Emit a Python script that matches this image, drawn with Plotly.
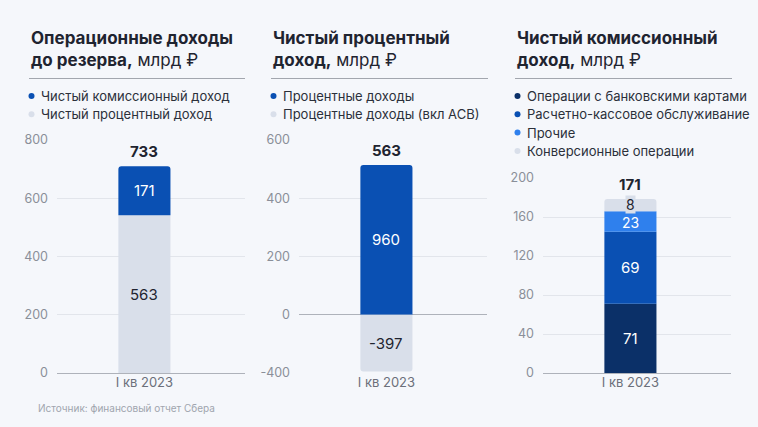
import plotly.graph_objects as go

W, H = 758, 427
FONT = "Inter"
BG = "#f5f7fb"

category = ["I кв 2023"]

# ---------- Panel 1: Операционные доходы до резерва ----------
p1_names = ["Чистый процентный доход", "Чистый комиссионный доход"]  # stack bottom -> top
p1_heights = [542, 168]
p1_labels = ["563", "171"]
p1_total = "733"
p1_colors = ["#d9dfea", "#0a50b3"]
p1_textcolors = ["#1f2430", "#ffffff"]
p1_tickvals = [0, 200, 400, 600, 800]
p1_ticktext = ["0", "200", "400", "600", "800"]

# ---------- Panel 2: Чистый процентный доход ----------
p2_names = ["Процентные доходы", "Процентные доходы (вкл АСВ)"]
p2_heights = [514, -195]
p2_labels = ["960", "-397"]
p2_total = "563"
p2_colors = ["#0a50b3", "#d9dfea"]
p2_textcolors = ["#ffffff", "#1f2430"]
p2_tickvals = [-200, 0, 200, 400, 600]
p2_ticktext = ["-400", "0", "200", "400", "600"]

# ---------- Panel 3: Чистый комиссионный доход ----------
p3_names = ["Операции с банковскими картами", "Расчетно-кассовое обслуживание",
            "Прочие", "Конверсионные операции"]
p3_heights = [71, 74, 21, 12.5]
p3_labels = ["71", "69", "23", "8"]
p3_total = "171"
p3_colors = ["#0b3068", "#0a50b3", "#2f80ed", "#d9dfea"]
p3_textcolors = ["#ffffff", "#ffffff", "#ffffff", "#1f2430"]
p3_tickvals = [0, 40, 80, 120, 160, 200]
p3_ticktext = ["0", "40", "80", "120", "160", "200"]

titles = [
    "<b>Операционные доходы<br>до резерва,</b> млрд ₽",
    "<b>Чистый процентный<br>доход,</b> млрд ₽",
    "<b>Чистый комиссионный<br>доход,</b> млрд ₽",
]
legend_orders = [[1, 0], [0, 1], [0, 1, 2, 3]]
source_text = "Источник: финансовый отчет Сбера"


def px(x):
    return x / W


def py(y):
    return 1 - y / H


panels = [
    dict(names=p1_names, h=p1_heights, lab=p1_labels, tot=p1_total, col=p1_colors,
         tc=p1_textcolors, tv=p1_tickvals, tt=p1_ticktext, rng=[0, 800],
         xdom=(57, 245), ydom=(140, 373), left=29, right=245),
    dict(names=p2_names, h=p2_heights, lab=p2_labels, tot=p2_total, col=p2_colors,
         tc=p2_textcolors, tv=p2_tickvals, tt=p2_ticktext, rng=[-200, 600],
         xdom=(299, 487), ydom=(140, 373), left=271, right=488),
    dict(names=p3_names, h=p3_heights, lab=p3_labels, tot=p3_total, col=p3_colors,
         tc=p3_textcolors, tv=p3_tickvals, tt=p3_ticktext, rng=[0, 200],
         xdom=(543, 731), ydom=(178, 373), left=515, right=732),
]

fig = go.Figure()
annotations = []
shapes = []
layout = dict(
    width=W, height=H, margin=dict(l=0, r=0, t=0, b=0, autoexpand=False),
    paper_bgcolor=BG, plot_bgcolor=BG, barmode="relative",
    barcornerradius=3, showlegend=False,
    font=dict(family=FONT, color="#1f2430"),
)

for i, p in enumerate(panels):
    n = "" if i == 0 else str(i + 1)
    xa, ya = "x" + n, "y" + n
    for name, h, c in zip(p["names"], p["h"], p["col"]):
        fig.add_trace(go.Bar(x=category, y=[h], name=name, marker=dict(color=c, line=dict(width=0)),
                             width=0.277, xaxis=xa, yaxis=ya, hoverinfo="skip"))
    layout["xaxis" + n] = dict(
        domain=[px(p["xdom"][0]), px(p["xdom"][1])], anchor=ya, type="category",
        range=[-0.465, 0.535], showgrid=False, showline=False, ticks="", automargin=False,
        tickfont=dict(family=FONT, size=13, color="#6b707a"), fixedrange=True,
    )
    layout["yaxis" + n] = dict(
        domain=[py(p["ydom"][1]), py(p["ydom"][0])], anchor=xa, range=p["rng"],
        tickvals=p["tv"], ticktext=p["tt"], showgrid=True, gridcolor="#e2e5eb", gridwidth=1,
        zeroline=True, zerolinecolor="#aeb2ba", zerolinewidth=1, showline=False, ticks="",
        ticklabelstandoff=8, automargin=False,
        tickfont=dict(family=FONT, size=12.5, color="#8a8f99"), fixedrange=True,
    )
    # segment labels
    pos, neg = 0, 0
    for h, lab, tc, c in zip(p["h"], p["lab"], p["tc"], p["col"]):
        if h >= 0:
            mid = pos + h / 2
            pos += h
        else:
            mid = neg + h / 2
            neg += h
        ann = dict(x=0, y=mid, xref=xa, yref=ya, text=lab, showarrow=False,
                   font=dict(family=FONT, size=15, color=tc))
        if lab == "8":
            ann.update(bgcolor=c, borderpad=0, font=dict(family=FONT, size=14, color=tc), yshift=1)
        if lab == "23":
            ann.update(font=dict(family=FONT, size=14, color=tc), yshift=-1)
        annotations.append(ann)
    # total label
    annotations.append(dict(x=0, y=pos, xref=xa, yref=ya, text="<b>" + p["tot"] + "</b>",
                            showarrow=False, yanchor="bottom", yshift=3,
                            font=dict(family=FONT, size=15, color="#1f2430")))
    # title (two lines)
    annotations.append(dict(x=px(p["left"]), y=py(48.5), xref="paper", yref="paper", text=titles[i],
                            showarrow=False, xanchor="left", yanchor="middle", align="left",
                            font=dict(family=FONT, size=17, color="#1f2430")))
    shapes.append(dict(type="line", xref="paper", yref="paper", x0=px(p["left"]), x1=px(p["right"]),
                       y0=py(78.5), y1=py(78.5), line=dict(color="#a2a6ae", width=1)))
    # legend
    for r, k in enumerate(legend_orders[i]):
        yc = 96 + r * 18.3
        cx = p["left"] + 2.5
        shapes.append(dict(type="circle", xref="paper", yref="paper",
                           x0=px(cx - 3), x1=px(cx + 3), y0=py(yc + 3), y1=py(yc - 3),
                           fillcolor=p["col"][k], line=dict(width=0)))
        annotations.append(dict(x=px(p["left"] + 10), y=py(yc), xref="paper", yref="paper",
                                text=p["names"][k], showarrow=False, xanchor="left", yanchor="middle",
                                font=dict(family=FONT, size=13, color="#2b303a")))

annotations.append(dict(x=px(36), y=py(408), xref="paper", yref="paper", text=source_text,
                        showarrow=False, xanchor="left", yanchor="middle",
                        font=dict(family=FONT, size=10, color="#a0a5ae")))

layout["annotations"] = annotations
layout["shapes"] = shapes
fig.update_layout(**layout)
fig.write_html("out.html", config={"displayModeBar": False})

# remove the browser's default page margin so the figure fills the window
with open("out.html", "r", encoding="utf-8") as f:
    html = f.read()
html = html.replace("<head>", "<head><style>html,body{margin:0;padding:0;overflow:hidden;background:%s}</style>" % BG, 1)
with open("out.html", "w", encoding="utf-8") as f:
    f.write(html)
